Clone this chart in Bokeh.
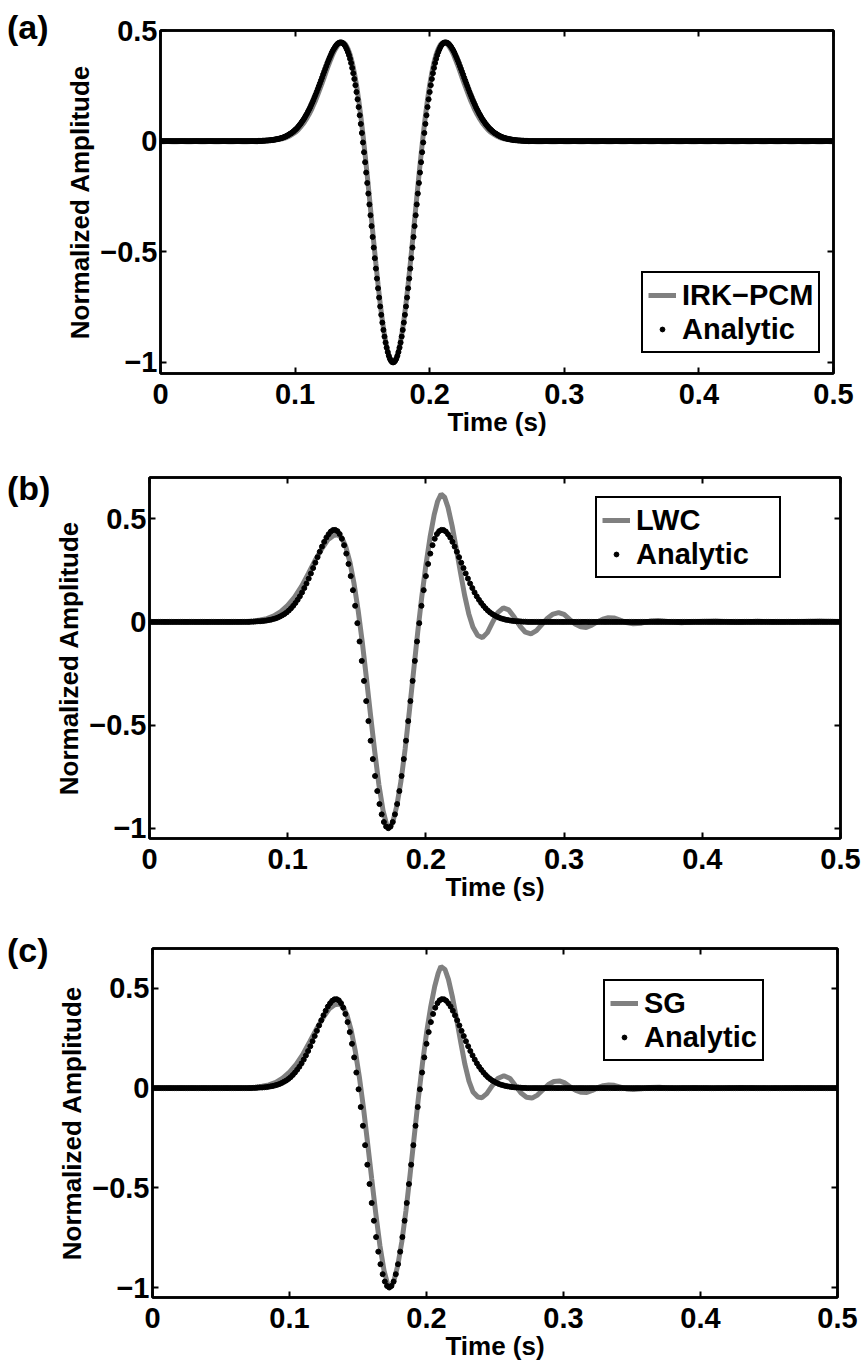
import numpy as np
from bokeh.plotting import figure
from bokeh.models import Range1d, LinearAxis, FixedTicker, Legend, LegendItem, Div
from bokeh.layouts import row
from bokeh.embed import file_html
from bokeh.resources import INLINE

FONT = "Liberation Sans"
GRAY = "#808080"

# ---------------- data ----------------
# Analytic wavelet, sampled every 0.0008 s from t = 0
ANALYTIC_DT = 0.0008
analytic_lead = [
    0, 0, 0, 0, 0, 0, 0, 0, 0, 0, 0, 0, 0,
    0, 0, 0, 0, 0, 0, 0, 0, 0, 0, 0, 0, 0,
    0, 0, 0, 0, 0, 0, 0, 0, 0, 0, 0, 0, 0,
    0, 0, 0, 0, 0, 0, 0, 0, 0, 0, 0, 0, 0,
    0, 0, 0, 0, 0, 0, 0, 0, 0, 0, 0, 0, 0,
    0, 0, 0, 0, 0, 0, 0, 0, 0, 0, 0, 0, 0,
    0, 0, 0, 0, 0, 0, 0, 0, 0, 0, 0, 0, 0,
]
analytic_pulse = [
    0.001, 0.001, 0.001, 0.001, 0.002, 0.002, 0.002, 0.003, 0.003, 0.003,
    0.004, 0.004, 0.005, 0.005, 0.006, 0.007, 0.008, 0.009, 0.010, 0.011,
    0.012, 0.014, 0.015, 0.017, 0.019, 0.021, 0.023, 0.026, 0.029, 0.032,
    0.035, 0.038, 0.042, 0.046, 0.051, 0.055, 0.060, 0.066, 0.072, 0.078,
    0.085, 0.092, 0.099, 0.107, 0.116, 0.124, 0.134, 0.143, 0.153, 0.164,
    0.175, 0.186, 0.198, 0.210, 0.222, 0.235, 0.248, 0.261, 0.274, 0.287,
    0.301, 0.314, 0.327, 0.340, 0.353, 0.365, 0.377, 0.388, 0.399, 0.409,
    0.417, 0.425, 0.432, 0.438, 0.442, 0.445, 0.446, 0.446, 0.444, 0.440,
    0.434, 0.426, 0.415, 0.403, 0.389, 0.372, 0.353, 0.331, 0.307, 0.281,
    0.253, 0.222, 0.189, 0.154, 0.117, 0.078, 0.037, -0.006, -0.050, -0.095,
    -0.142, -0.189, -0.237, -0.286, -0.335, -0.384, -0.433, -0.481, -0.529, -0.576,
    -0.621, -0.665, -0.707, -0.747, -0.785, -0.820, -0.853, -0.883, -0.910, -0.933,
    -0.953, -0.970, -0.983, -0.992, -0.998,
    -1.000,
    -0.998, -0.992, -0.983, -0.970, -0.953,
    -0.933, -0.910, -0.883, -0.853, -0.820, -0.785, -0.747, -0.707, -0.665, -0.621,
    -0.576, -0.529, -0.481, -0.433, -0.384, -0.335, -0.286, -0.237, -0.189, -0.142,
    -0.095, -0.050, -0.006, 0.037, 0.078, 0.117, 0.154, 0.189, 0.222, 0.253,
    0.281, 0.307, 0.331, 0.353, 0.372, 0.389, 0.403, 0.415, 0.426, 0.434,
    0.440, 0.444, 0.446, 0.446, 0.445, 0.442, 0.438, 0.432, 0.425, 0.417,
    0.409, 0.399, 0.388, 0.377, 0.365, 0.353, 0.340, 0.327, 0.314, 0.301,
    0.287, 0.274, 0.261, 0.248, 0.235, 0.222, 0.210, 0.198, 0.186, 0.175,
    0.164, 0.153, 0.143, 0.134, 0.124, 0.116, 0.107, 0.099, 0.092, 0.085,
    0.078, 0.072, 0.066, 0.060, 0.055, 0.051, 0.046, 0.042, 0.038, 0.035,
    0.032, 0.029, 0.026, 0.023, 0.021, 0.019, 0.017, 0.015, 0.014, 0.012,
    0.011, 0.010, 0.009, 0.008, 0.007, 0.006, 0.005, 0.005, 0.004, 0.004,
    0.003, 0.003, 0.003, 0.002, 0.002, 0.002, 0.001, 0.001, 0.001, 0.001,
]
analytic_tail = [
    0, 0, 0, 0, 0, 0, 0, 0, 0, 0, 0, 0, 0, 0, 0, 0, 0, 0, 0, 0,
    0, 0, 0, 0, 0, 0, 0, 0, 0, 0, 0, 0, 0, 0, 0, 0, 0, 0, 0, 0,
    0, 0, 0, 0, 0, 0, 0, 0, 0, 0, 0, 0, 0, 0, 0, 0, 0, 0, 0, 0,
    0, 0, 0, 0, 0, 0, 0, 0, 0, 0, 0, 0, 0, 0, 0, 0, 0, 0, 0, 0,
    0, 0, 0, 0, 0, 0, 0, 0, 0, 0, 0, 0, 0, 0, 0, 0, 0, 0, 0, 0,
    0, 0, 0, 0, 0, 0, 0, 0, 0, 0, 0, 0, 0, 0, 0, 0, 0, 0, 0, 0,
    0, 0, 0, 0, 0, 0, 0, 0, 0, 0, 0, 0, 0, 0, 0, 0, 0, 0, 0, 0,
    0, 0, 0, 0, 0, 0, 0, 0, 0, 0, 0, 0, 0, 0, 0, 0, 0, 0, 0, 0,
    0, 0, 0, 0, 0, 0, 0, 0, 0, 0, 0, 0, 0, 0, 0, 0, 0, 0, 0, 0,
    0, 0, 0, 0, 0, 0, 0, 0, 0, 0, 0, 0, 0, 0, 0, 0, 0, 0, 0, 0,
    0, 0, 0, 0, 0, 0, 0, 0, 0, 0, 0, 0, 0, 0, 0, 0, 0, 0, 0, 0,
    0, 0, 0, 0, 0, 0, 0, 0, 0, 0, 0, 0, 0, 0, 0, 0, 0, 0, 0, 0,
    0, 0, 0, 0, 0, 0, 0, 0, 0, 0, 0, 0, 0, 0, 0, 0, 0, 0, 0, 0,
    0, 0, 0, 0, 0, 0, 0, 0, 0, 0, 0, 0, 0, 0, 0, 0, 0, 0, 0, 0,
    0, 0, 0, 0,
]
analytic = analytic_lead + analytic_pulse + analytic_tail
analytic_t = np.round(np.arange(len(analytic)) * ANALYTIC_DT, 4)

# (a) IRK-PCM numerical trace, sampled every 0.0016 s from 0.0768 s
IRK_T0, IRK_DT = 0.0768, 0.0016
irk_pulse = [
    0.001, 0.002, 0.002, 0.003, 0.004, 0.005, 0.006, 0.008, 0.010, 0.012,
    0.015, 0.019, 0.023, 0.030, 0.036, 0.043, 0.052, 0.063, 0.075, 0.089,
    0.104, 0.121, 0.140, 0.162, 0.184, 0.209, 0.235, 0.261, 0.288, 0.316,
    0.343, 0.368, 0.392, 0.412, 0.428, 0.440, 0.446, 0.445, 0.436, 0.418,
    0.392, 0.356, 0.309, 0.254, 0.188, 0.113, 0.030, -0.060, -0.155, -0.254,
    -0.355, -0.455, -0.553, -0.647, -0.733, -0.810, -0.876, -0.929, -0.968, -0.992,
    -1.000,
    -0.992, -0.968, -0.929, -0.876, -0.810, -0.733, -0.647, -0.553, -0.455, -0.355,
    -0.254, -0.155, -0.060, 0.030, 0.113, 0.188, 0.254, 0.309, 0.356, 0.392,
    0.418, 0.436, 0.445, 0.446, 0.440, 0.428, 0.412, 0.392, 0.368, 0.343,
    0.316, 0.288, 0.261, 0.235, 0.209, 0.184, 0.162, 0.140, 0.121, 0.104,
    0.089, 0.075, 0.063, 0.052, 0.043, 0.036, 0.030, 0.023, 0.019, 0.015,
    0.012, 0.010, 0.008, 0.006, 0.005, 0.004, 0.003, 0.002, 0.002, 0.001,
]
irk_t = [0.0] + list(np.round(IRK_T0 + IRK_DT * np.arange(len(irk_pulse)), 4)) + [0.5]
irk_v = [0.0] + irk_pulse + [0.0]

# (b) LWC numerical trace
lwc_t = [0.0, 0.06, 0.07, 0.075, 0.08, 0.085, 0.09, 0.095, 0.1, 0.105, 0.11, 0.115,
         0.12, 0.125, 0.129, 0.133, 0.136, 0.139, 0.142, 0.145, 0.148, 0.151, 0.154,
         0.157, 0.16, 0.163, 0.166, 0.169, 0.1715, 0.1735, 0.176, 0.179, 0.182, 0.185,
         0.188, 0.191, 0.194, 0.197, 0.2, 0.203, 0.206, 0.2085, 0.211, 0.2135, 0.216,
         0.219, 0.222, 0.225, 0.228, 0.231, 0.234, 0.2375, 0.241, 0.2445, 0.248, 0.252,
         0.256, 0.26, 0.264, 0.268, 0.272, 0.276, 0.28, 0.284, 0.288, 0.292, 0.296,
         0.3, 0.304, 0.308, 0.312, 0.316, 0.32, 0.324, 0.328, 0.332, 0.336, 0.34,
         0.345, 0.35, 0.356, 0.362, 0.368, 0.375, 0.385, 0.395, 0.41, 0.425, 0.44,
         0.455, 0.47, 0.485, 0.5]
lwc_v = [0.0, 0.0, 0.002, 0.004, 0.009, 0.016, 0.029, 0.05, 0.08, 0.12, 0.172, 0.235,
         0.3, 0.358, 0.398, 0.418, 0.422, 0.41, 0.365, 0.29, 0.186, 0.055, -0.1,
         -0.275, -0.455, -0.63, -0.79, -0.915, -0.98, -1.0, -0.972, -0.89, -0.77, -0.615,
         -0.435, -0.245, -0.055, 0.12, 0.275, 0.41, 0.52, 0.585, 0.62, 0.605, 0.555,
         0.465, 0.355, 0.24, 0.13, 0.04, -0.025, -0.066, -0.076, -0.052, -0.005, 0.045,
         0.068, 0.058, 0.022, -0.02, -0.05, -0.058, -0.042, -0.012, 0.018, 0.038, 0.045,
         0.036, 0.012, -0.01, -0.024, -0.027, -0.016, 0.0, 0.013, 0.02, 0.019, 0.01,
         -0.003, -0.009, -0.006, 0.004, 0.007, 0.002, -0.004, 0.002, 0.004, -0.002, 0.003,
         -0.001, 0.002, 0.004, 0.002]

# (c) SG numerical trace
sg_t = [0.0, 0.06, 0.07, 0.075, 0.08, 0.085, 0.09, 0.095, 0.1, 0.105, 0.11, 0.115,
        0.12, 0.125, 0.129, 0.133, 0.136, 0.139, 0.142, 0.145, 0.148, 0.151, 0.154,
        0.157, 0.16, 0.163, 0.166, 0.169, 0.1715, 0.1735, 0.176, 0.179, 0.182, 0.185,
        0.188, 0.191, 0.194, 0.197, 0.2, 0.203, 0.206, 0.2085,
        0.2105, 0.2135, 0.216, 0.219, 0.222, 0.225, 0.228, 0.231, 0.234, 0.2375,
        0.2405, 0.244, 0.248, 0.252, 0.2565, 0.261, 0.265, 0.269, 0.273, 0.277,
        0.281, 0.285, 0.289, 0.293, 0.297, 0.301, 0.305, 0.309, 0.313, 0.317,
        0.321, 0.325, 0.329, 0.333, 0.337, 0.341, 0.346, 0.351, 0.357, 0.363,
        0.37, 0.38, 0.395, 0.41, 0.43, 0.45, 0.47, 0.5]
sg_v = [0.0, 0.0, 0.002, 0.004, 0.009, 0.016, 0.029, 0.05, 0.08, 0.12, 0.172, 0.235,
        0.3, 0.358, 0.398, 0.418, 0.422, 0.41, 0.365, 0.29, 0.186, 0.055, -0.1,
        -0.275, -0.455, -0.63, -0.79, -0.915, -0.98, -1.0, -0.972, -0.89, -0.77, -0.615,
        -0.435, -0.245, -0.055, 0.12, 0.275, 0.405, 0.51, 0.575,
        0.61, 0.595, 0.545, 0.455, 0.345, 0.23, 0.12, 0.035, -0.02, -0.045,
        -0.048, -0.028, 0.012, 0.048, 0.062, 0.048, 0.012, -0.025, -0.046, -0.05,
        -0.035, -0.008, 0.018, 0.033, 0.036, 0.026, 0.005, -0.012, -0.021, -0.022,
        -0.012, 0.002, 0.012, 0.016, 0.014, 0.006, -0.004, -0.007, -0.003, 0.003,
        0.004, -0.002, 0.002, -0.002, 0.003, -0.001, 0.002, 0.0]

x_ticks = [0, 0.1, 0.2, 0.3, 0.4, 0.5]
y_ticks = [-1, -0.5, 0, 0.5]
y_tick_labels = {-1: "\u22121", -0.5: "\u22120.5", 0: "0", 0.5: "0.5"}
panel_letters = ["(a)", "(b)", "(c)"]
legend_names = ["IRK\u2212PCM", "LWC", "SG"]

LETTER_W = 50


def style_axis(ax, labels=True):
    ax.axis_line_width = 2.5
    ax.axis_line_color = "black"
    ax.major_tick_in = 6
    ax.major_tick_out = 0
    ax.major_tick_line_width = 2
    ax.major_tick_line_color = "black"
    ax.minor_tick_line_color = None
    ax.major_label_text_font = FONT
    ax.major_label_text_font_style = "bold"
    if labels:
        ax.major_label_text_color = "black"
        ax.major_label_text_font_size = "29px"
    else:
        ax.major_label_text_color = None
        ax.major_label_text_font_size = "1px"
        ax.major_label_standoff = 0
    ax.axis_label_text_font = FONT
    ax.axis_label_text_font_style = "bold"
    ax.axis_label_text_font_size = "26px"
    ax.axis_label_text_color = "black"


def make_panel(height, borders, y_top, gray_t, gray_v, dots_t, dots_v, letter,
               letter_top, name, legend_loc, label_width):
    left, right, top, bottom = borders
    p = figure(width=863 - LETTER_W, height=height, x_range=Range1d(0, 0.5),
               y_range=Range1d(-1.05, y_top), min_border_left=left - LETTER_W,
               min_border_right=right, min_border_top=top,
               min_border_bottom=bottom, toolbar_location=None,
               output_backend="svg", title=None, margin=(0, 0, 0, 0))
    p.grid.visible = False
    p.outline_line_color = "black"
    p.outline_line_width = 2.5
    p.background_fill_color = "white"
    p.border_fill_color = "white"

    p.xaxis.ticker = FixedTicker(ticks=x_ticks)
    p.yaxis.ticker = FixedTicker(ticks=y_ticks)
    p.yaxis.major_label_overrides = y_tick_labels
    p.xaxis.axis_label = "Time (s)"
    p.yaxis.axis_label = "Normalized Amplitude"
    style_axis(p.xaxis[0])
    style_axis(p.yaxis[0])
    p.xaxis.major_label_standoff = 10
    p.yaxis.major_label_standoff = 3
    p.xaxis.axis_label_standoff = 0
    p.yaxis.axis_label_standoff = 2

    top_ax = LinearAxis(ticker=FixedTicker(ticks=x_ticks))
    style_axis(top_ax, labels=False)
    p.add_layout(top_ax, "above")
    right_ax = LinearAxis(ticker=FixedTicker(ticks=y_ticks))
    style_axis(right_ax, labels=False)
    p.add_layout(right_ax, "right")

    r_line = p.line(gray_t, gray_v, line_color=GRAY, line_width=5)
    r_dots = p.scatter(dots_t, dots_v, size=5, fill_color="black",
                       line_color="black")

    legend = Legend(items=[LegendItem(label=name, renderers=[r_line]),
                           LegendItem(label="Analytic", renderers=[r_dots])],
                    location=legend_loc)
    legend.border_line_color = "black"
    legend.border_line_alpha = 1.0
    legend.border_line_width = 2
    legend.background_fill_color = "white"
    legend.background_fill_alpha = 1
    legend.label_text_font = FONT
    legend.label_text_font_style = "bold"
    legend.label_text_font_size = "29px"
    legend.label_text_color = "black"
    legend.glyph_width = 28
    legend.glyph_height = 12
    legend.label_standoff = 6
    legend.label_width = label_width
    legend.label_height = 34
    legend.padding = 5
    legend.spacing = 0
    legend.margin = 0
    p.add_layout(legend)

    div = Div(text=letter, width=LETTER_W, height=height, margin=(0, 0, 0, 0),
              styles={"font-family": FONT, "font-size": "34px",
                      "font-weight": "bold", "color": "black",
                      "line-height": "34px", "white-space": "nowrap",
                      "padding-left": "7px", "padding-top": f"{letter_top}px",
                      "box-sizing": "border-box", "background": "white",
                      "overflow": "visible"})
    return row(div, p, spacing=0, margin=(0, 0, 0, 0))


pa = make_panel(445, (160, 30, 30, 72), 0.5, irk_t, irk_v,
                analytic_t, analytic, panel_letters[0], 10,
                legend_names[0], (481, 20), 20)
pb = make_panel(470, (149, 23, 32, 77), 0.7, lwc_t, lwc_v,
                analytic_t[::2], analytic[::2], panel_letters[1], 26,
                legend_names[1], (446, 260), 138)
pc = make_panel(454, (152, 26, 33, 72), 0.7, sg_t, sg_v,
                analytic_t[::2], analytic[::2], panel_letters[2], 18,
                legend_names[2], (451, 236), 20)

open("out.html", "w").write(file_html([pa, pb, pc], INLINE))
